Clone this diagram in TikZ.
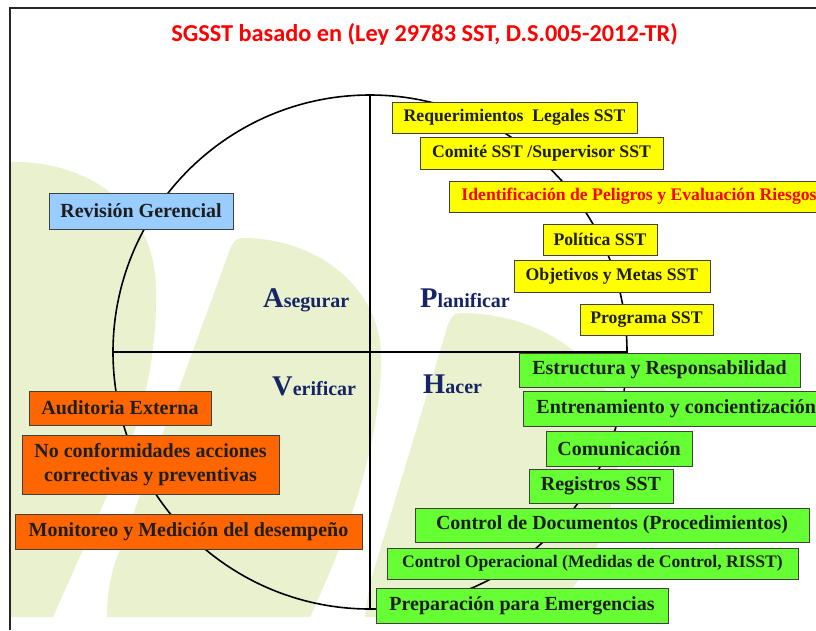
\documentclass[tikz,border=0pt]{standalone}
\usepackage{fontspec}
\setmainfont{Liberation Serif}
\newfontfamily\titlefont{Carlito}
\usetikzlibrary{shadows}
\definecolor{bgg}{RGB}{233,241,207}
\definecolor{yel}{RGB}{255,255,0}
\definecolor{grn}{RGB}{102,255,51}
\definecolor{org}{RGB}{255,102,0}
\definecolor{blu}{RGB}{153,204,255}
\definecolor{navy}{RGB}{22,36,102}
\definecolor{ink}{RGB}{30,30,30}
\definecolor{ttl}{RGB}{255,0,0}
\begin{document}
\begin{tikzpicture}[x=1pt,y=-1pt,
 box/.style={draw=black!75, line width=0.9pt, inner sep=0pt, text=ink,
   drop shadow={shadow xshift=1.4pt, shadow yshift=-1.4pt, opacity=0.35}},
 ybox/.style={box, fill=yel, font=\bfseries\fontsize{17.7}{21}\selectfont},
 gbox/.style={box, fill=grn, font=\bfseries\fontsize{20}{24}\selectfont},
 obox/.style={box, fill=org, font=\bfseries\fontsize{20}{24}\selectfont},
 bbox/.style={box, fill=blu, font=\bfseries\fontsize{20}{24}\selectfont},
 quad/.style={text=navy, font=\bfseries\fontsize{20}{24}\selectfont, inner sep=0pt, anchor=base west},
 axis/.style={draw=black, line width=2pt},
 ring/.style={draw=black, line width=1.6pt},
 frame/.style={draw=black!85, line width=1.3pt},
 leaf/.style={fill=bgg}
]
\useasboundingbox (0,0) rectangle (816,630);
\clip (0,0) rectangle (816,630);
\fill[white] (0,0) rectangle (816,630);
% background leaves
\path[leaf] (10,162) .. controls (80,160) and (155,200) .. (156,290)
  .. controls (157,350) and (145,410) .. (125,455) -- (53,617) -- (10,617) -- cycle;
\path[leaf] (107,617) .. controls (107,590) and (112,568) .. (120,550) -- (228,255)
  .. controls (231,245) and (235,238) .. (242,238)
  .. controls (320,238) and (380,290) .. (381,355)
  .. controls (382,430) and (355,520) .. (310,617) -- cycle;
\path[leaf] (365,617) .. controls (368,590) and (372,575) .. (377,560) -- (445,335)
  .. controls (448,322) and (452,313) .. (460,313)
  .. controls (540,313) and (615,360) .. (618,440)
  .. controls (620,510) and (590,580) .. (545,617) -- cycle;
% frame
\draw[frame] (10,630) -- (10,8) -- (816,8);
% circle and axes
\coordinate (c) at (370,352);
\draw[ring] (c) circle[radius=257];
\draw[axis] (370,95) -- (370,609);
\draw[axis] (113,352) -- (628,352);
% quadrant labels
\node[quad] (aseg) at (263,307) {{\fontsize{28.5}{30}\selectfont A}segurar};
\node[quad] (plan) at (420,307) {{\fontsize{28.5}{30}\selectfont P}lanificar};
\node[quad] (veri) at (272,395) {{\fontsize{28.5}{30}\selectfont V}erificar};
\node[quad] (hace) at (423,393) {{\fontsize{28.5}{30}\selectfont H}acer};
% yellow boxes
\node[ybox, minimum width=245pt, minimum height=31pt] (req) at (514.5,117.5) {Requerimientos\ \ Legales SST};
\node[ybox, minimum width=243pt, minimum height=32pt] (comi) at (541.5,153) {Comité SST /Supervisor SST};
\node[ybox, text=ttl, anchor=west, inner xsep=12pt, minimum height=31pt] (iden) at (449,196.5) {Identificación de Peligros y Evaluación Riesgos};
\node[ybox, minimum width=114pt, minimum height=31pt] (poli) at (600,239.5) {Política SST};
\node[ybox, minimum width=196pt, minimum height=32pt] (obje) at (612,276) {Objetivos y Metas SST};
\node[ybox, minimum width=133pt, minimum height=31pt] (prog) at (646.5,319.5) {Programa SST};
% green boxes
\node[gbox, minimum width=281pt, minimum height=34pt] (estr) at (659.5,370) {Estructura y Responsabilidad};
\node[gbox, anchor=west, inner xsep=13pt, minimum height=35pt] (entr) at (523,408.5) {Entrenamiento y concientización};
\node[gbox, minimum width=146pt, minimum height=35pt] (comu) at (619,448.5) {Comunicación};
\node[gbox, minimum width=144pt, minimum height=34pt] (regi) at (601,486) {Registros SST};
\node[gbox, minimum width=394pt, minimum height=34pt] (docu) at (612,525) {Control de Documentos (Procedimientos)};
\node[gbox, font=\bfseries\fontsize{17.6}{21}\selectfont, minimum width=411pt, minimum height=31pt] (oper) at (592.5,563.5) {Control Operacional (Medidas de Control, RISST)};
\node[gbox, minimum width=292pt, minimum height=35pt] (prep) at (522,605.5) {Preparación para Emergencias};
% orange boxes
\node[obox, minimum width=182pt, minimum height=34pt] (audi) at (120,408) {Auditoria Externa};
\node[obox, minimum width=257pt, minimum height=59pt, align=center] (noco) at (150.5,464.5) {No conformidades acciones\\correctivas y preventivas};
\node[obox, minimum width=347pt, minimum height=35pt] (moni) at (188.5,531.5) {Monitoreo y Medición del desempeño};
% blue box
\node[bbox, minimum width=184pt, minimum height=36pt] (revi) at (141,211) {Revisión Gerencial};
% title
\node[text=ttl, font=\titlefont\bfseries\fontsize{24.3}{27}\selectfont, anchor=base] (title) at (424.5,41) {SGSST basado en (Ley 29783 SST, D.S.005-2012-TR)};
\end{tikzpicture}
\end{document}
